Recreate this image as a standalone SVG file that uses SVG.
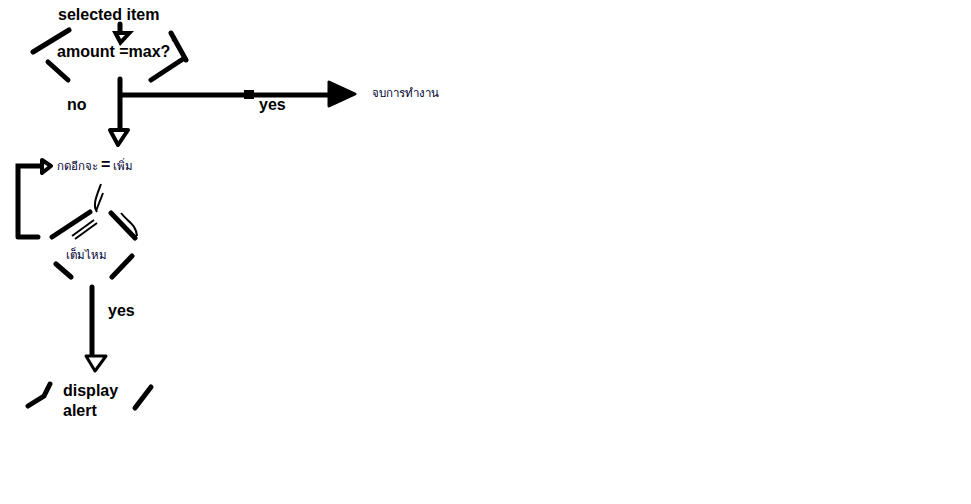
<svg xmlns="http://www.w3.org/2000/svg" width="971" height="504" viewBox="0 0 971 504">
<style>
.b{font-family:"Liberation Sans",Arial,sans-serif;font-weight:bold;font-size:16px;fill:#000}
.th{font-family:"Noto Sans","DejaVu Sans",sans-serif;font-size:11.5px;fill:#000033}
.s{stroke:#000;stroke-width:5;stroke-linecap:round;fill:none}
.t{stroke:#000;stroke-width:2;fill:none}
</style>
<rect width="971" height="504" fill="#fff"/>
<g id="n-start"><text class="b" x="58" y="20">selected item</text></g>
<g id="n-decision1">
<path class="s" d="M33,52 L69,30 M48,62 L68,80 M171,33 L186,60 M151,80 L183,59"/>
<text class="b" x="57" y="57">amount =max?</text>
<text class="b" x="171" y="49" font-size="8">'</text>
</g>
<g id="n-end"><text class="th" x="372" y="97" font-size="12">จบการทำงาน</text></g>
<g id="n-press">
<text class="th" x="57" y="170">กดอีกจะ</text>
<text class="b" x="101" y="170">=</text>
<text class="th" x="113" y="170">เพิ่ม</text>
</g>
<g id="n-decision2">
<path class="s" d="M52,237 L90,212 M111,213 L135,238 M56,264 L71,277 M132,256 L112,277"/>
<path class="t" d="M72,236 L94,220 M75,239 L97,223 M101,184 C97,195 92,205 97,212 M103,193 L96,211 M121,213 C128,222 136,224 137,236"/>
<text class="th" x="66" y="259">เต็มไหม</text>
</g>
<g id="n-alert">
<path class="s" d="M28,406 L44,396 L50,384 M135,408 L151,387" stroke-width="3"/>
<text class="b" x="63" y="396">display</text>
<text class="b" x="63" y="416">alert</text>
</g>
<g id="connectors">
<path class="s" d="M120,24 L120,33"/>
<path d="M112,31 L134,31 L120,46 Z" fill="#000"/>
<path d="M119,35 L125,35 L121,39 Z" fill="#fff"/>
<path class="s" d="M120,79 L120,130 M121,95 L330,95"/>
<rect x="244" y="90" width="10" height="9" fill="#000"/>
<path d="M329,82 L329,106 L355,94 Z" fill="#000" stroke="#000" stroke-width="3" stroke-linejoin="round"/>
<text class="b" x="259" y="110">yes</text>
<text class="b" x="67" y="110">no</text>
<path d="M110,130 L128,130 L118,145 Z" fill="#fff" stroke="#000" stroke-width="4" stroke-linejoin="round"/>
<path class="s" d="M18,237 L38,237 M18,237 L18,166 L43,166"/>
<path d="M42,160 L51,166 L42,173 Z" fill="#fff" stroke="#000" stroke-width="4" stroke-linejoin="round"/>
<path class="s" d="M92,287 L92,356"/>
<path d="M86,356 L106,356 L95,371 Z" fill="#fff" stroke="#000" stroke-width="3" stroke-linejoin="round"/>
<text class="b" x="108" y="316">yes</text>
</g>
</svg>
